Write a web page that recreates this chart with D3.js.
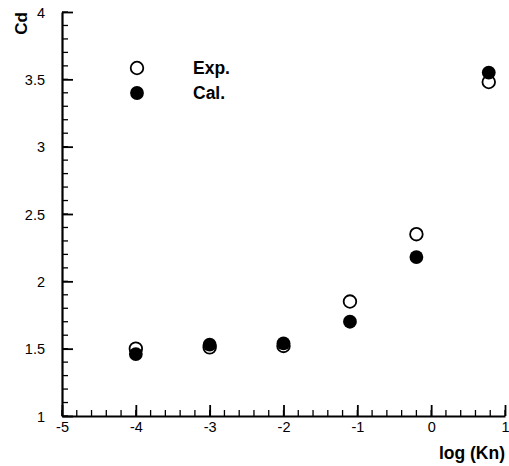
<!DOCTYPE html>
<html>
<head>
<meta charset="utf-8">
<script src="https://cdn.jsdelivr.net/npm/d3@7"></script>
<style>
  html, body { margin: 0; padding: 0; background: #fff; }
  svg { display: block; font-family: "Liberation Sans", Arial, sans-serif; }
</style>
</head>
<body>
<svg id="chart" width="509" height="466"></svg>
<script>
// Drag coefficient vs. Knudsen number (log scale)
const logKn   = [-4, -3, -2, -1.1, -0.2, 0.78];
const cdExp   = [1.50, 1.51, 1.52, 1.85, 2.35, 3.48];
const cdCal   = [1.46, 1.53, 1.54, 1.70, 2.18, 3.55];
const xTicks  = [-5, -4, -3, -2, -1, 0, 1];
const yTicks  = [1, 1.5, 2, 2.5, 3, 3.5, 4];
const seriesNames = ["Exp.", "Cal."];

const svg = d3.select("#chart");
const x = d3.scaleLinear().domain([-5, 1]).range([62, 505]);
const y = d3.scaleLinear().domain([1, 4]).range([416, 12]);

const fmt = d => String(d);

// minor ticks (inward)
const xMinor = d3.range(-5, 1.0001, 0.2).map(v => +v.toFixed(2));
const yMinor = d3.range(1, 4.0001, 0.1).map(v => +v.toFixed(2));

svg.append("g")
  .selectAll("line").data(xMinor).join("line")
  .attr("x1", d => x(d)).attr("x2", d => x(d))
  .attr("y1", y(1)).attr("y2", y(1) - 6)
  .attr("stroke", "#000").attr("stroke-width", 1.3);

svg.append("g")
  .selectAll("line").data(yMinor).join("line")
  .attr("x1", x(-5)).attr("x2", x(-5) + 6)
  .attr("y1", d => y(d)).attr("y2", d => y(d))
  .attr("stroke", "#000").attr("stroke-width", 1.3);

// major ticks via d3 axes, drawn inward
const xAxis = d3.axisBottom(x).tickValues(xTicks).tickFormat(fmt)
  .tickSizeInner(-11).tickSizeOuter(0).tickPadding(15);
const yAxis = d3.axisLeft(y).tickValues(yTicks).tickFormat(fmt)
  .tickSizeInner(-11).tickSizeOuter(0).tickPadding(17);

const gx = svg.append("g").attr("transform", `translate(0,${y(1)})`).call(xAxis);
const gy = svg.append("g").attr("transform", `translate(${x(-5)},0)`).call(yAxis);

[gx, gy].forEach(g => {
  g.select(".domain").attr("stroke", "#000").attr("stroke-width", 2.2);
  g.selectAll(".tick line").attr("stroke", "#000").attr("stroke-width", 1.8);
  g.selectAll(".tick text").attr("fill", "#000")
    .style("font-size", "14.5px")
    .style("font-family", "'Liberation Sans', Arial, sans-serif");
});
gx.selectAll(".tick text").attr("dy", "0.1em");
gy.selectAll(".tick text").attr("dy", "0.35em");

// axis titles
svg.append("text")
  .attr("x", 505).attr("y", 459)
  .attr("text-anchor", "end")
  .style("font-size", "17.5px").style("font-weight", "bold")
  .text("log (Kn)");

svg.append("text")
  .attr("transform", "translate(27,12) rotate(-90)")
  .attr("text-anchor", "end")
  .style("font-size", "17px").style("font-weight", "bold")
  .text("Cd");

// markers
const r = 6.3;
svg.append("g")
  .selectAll("circle").data(logKn.map((k, i) => [k, cdExp[i]])).join("circle")
  .attr("cx", d => x(d[0])).attr("cy", d => y(d[1])).attr("r", r)
  .attr("fill", "#fff").attr("stroke", "#000").attr("stroke-width", 1.8);

svg.append("g")
  .selectAll("circle").data(logKn.map((k, i) => [k, cdCal[i]])).join("circle")
  .attr("cx", d => x(d[0])).attr("cy", d => y(d[1])).attr("r", r + 0.6)
  .attr("fill", "#000");

// legend
const legend = svg.append("g");
const legendRows = [
  { name: seriesNames[0], fill: "#fff", stroke: "#000", cy: 68 },
  { name: seriesNames[1], fill: "#000", stroke: "none", cy: 93 }
];
legendRows.forEach(row => {
  legend.append("circle")
    .attr("cx", 137).attr("cy", row.cy)
    .attr("r", row.stroke === "none" ? r + 0.6 : r)
    .attr("fill", row.fill).attr("stroke", row.stroke).attr("stroke-width", 1.8);
  legend.append("text")
    .attr("x", 193).attr("y", row.cy).attr("dy", "0.35em")
    .style("font-size", "17.5px").style("font-weight", "bold")
    .text(row.name);
});
</script>
</body>
</html>
